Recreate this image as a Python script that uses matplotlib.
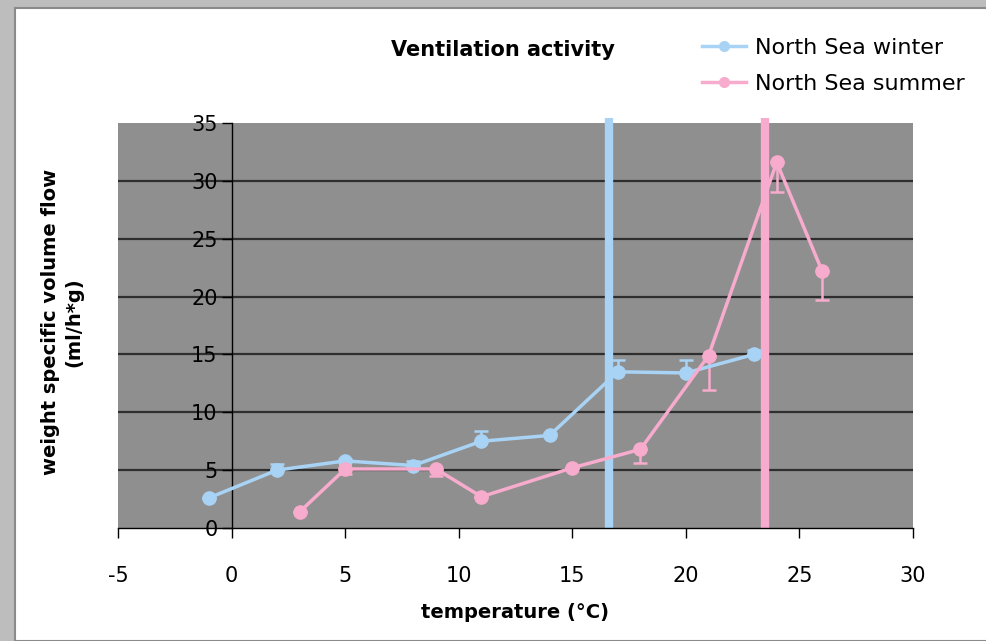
import matplotlib.pyplot as plt
from matplotlib.patches import Rectangle
from matplotlib.lines import Line2D

plt.rcParams['axes.unicode_minus'] = False

# temperature steps and mean ventilation (ml/h*g) with one-sided error bars
winter_temp = [-1, 2, 5, 8, 11, 14, 17, 20, 23]
winter_flow = [2.6, 5.0, 5.8, 5.4, 7.5, 8.0, 13.5, 13.4, 15.0]
winter_err = [0.0, 0.5, 0.2, 0.4, 0.9, 0.2, 1.0, 1.1, 0.4]

summer_temp = [3, 5, 9, 11, 15, 18, 21, 24, 26]
summer_flow = [1.4, 5.1, 5.1, 2.7, 5.2, 6.8, 14.9, 31.6, 22.2]
summer_err = [0.0, 0.4, 0.6, 0.0, 0.0, 1.2, 3.0, 2.6, 2.5]

# critical temperatures for each season
winter_limit = 16.6
summer_limit = 23.5

blue = '#a9d3f5'
pink = '#f7abcd'

fig = plt.figure(figsize=(9.87, 6.41), dpi=100)
fig.patch.set_facecolor('#bdbdbd')
fig.patches.append(Rectangle((15 / 987, 0), 1, 1 - 8 / 641, transform=fig.transFigure,
                             facecolor='white', edgecolor='#8a8a8a', linewidth=1.5, zorder=-5))

ax = fig.add_axes([118 / 987, 113 / 641, 795 / 987, 405 / 641])
ax.set_zorder(2)
ax.set_facecolor('#8f8f8f')
ax.set_xlim(-5, 30)
ax.set_ylim(0, 35)

for y in range(5, 35, 5):
    ax.axhline(y, color='#2e2e2e', linewidth=1.6, zorder=1)

ax.axvline(winter_limit, ymin=0, ymax=1.013, color=blue, linewidth=6, clip_on=False,
           solid_capstyle='butt', zorder=2)
ax.axvline(summer_limit, ymin=0, ymax=1.013, color=pink, linewidth=6, clip_on=False,
           solid_capstyle='butt', zorder=2)

ax.errorbar(winter_temp, winter_flow, yerr=[[0] * len(winter_err), winter_err],
            color=blue, marker='o', markersize=9.5, linewidth=2.5, capsize=5,
            elinewidth=1.8, capthick=1.8, zorder=3)
ax.errorbar(summer_temp, summer_flow, yerr=[summer_err, [0] * len(summer_err)],
            color=pink, marker='o', markersize=9.5, linewidth=2.5, capsize=5,
            elinewidth=1.8, capthick=1.8, zorder=3)

ax.spines['top'].set_visible(False)
ax.spines['right'].set_visible(False)
ax.spines['left'].set_position(('data', 0))
ax.spines['left'].set_linewidth(1.0)
ax.spines['bottom'].set_linewidth(1.0)
ax.set_xticks(range(-5, 31, 5))
ax.set_yticks(range(0, 36, 5))
ax.tick_params(axis='both', direction='out', length=7, width=1.0, labelsize=15)
ax.tick_params(axis='x', pad=20)
ax.tick_params(axis='y', pad=3)

fig.text(503 / 987, 1 - 50 / 641, 'Ventilation activity', ha='center', va='center',
         fontsize=15, fontweight='bold')
fig.text(515 / 987, 1 - 612 / 641, 'temperature (°C)', ha='center', va='center',
         fontsize=14, fontweight='bold')
fig.text(62 / 987, 1 - 322 / 641, 'weight specific volume flow\n(ml/h*g)', ha='center',
         va='center', rotation=90, fontsize=14, fontweight='bold', linespacing=1.3)

handles = [Line2D([], [], color=blue, marker='o', markersize=7, linewidth=2.5),
           Line2D([], [], color=pink, marker='o', markersize=7, linewidth=2.5)]
labels = ['North Sea winter', 'North Sea summer']
fig.legend(handles, labels, loc='upper right', bbox_to_anchor=(985 / 987, 1 - 18 / 641),
           frameon=False, fontsize=16, handlelength=2.0, handletextpad=0.4,
           labelspacing=0.7)

fig.savefig('out.png', dpi=100, facecolor=fig.get_facecolor())
